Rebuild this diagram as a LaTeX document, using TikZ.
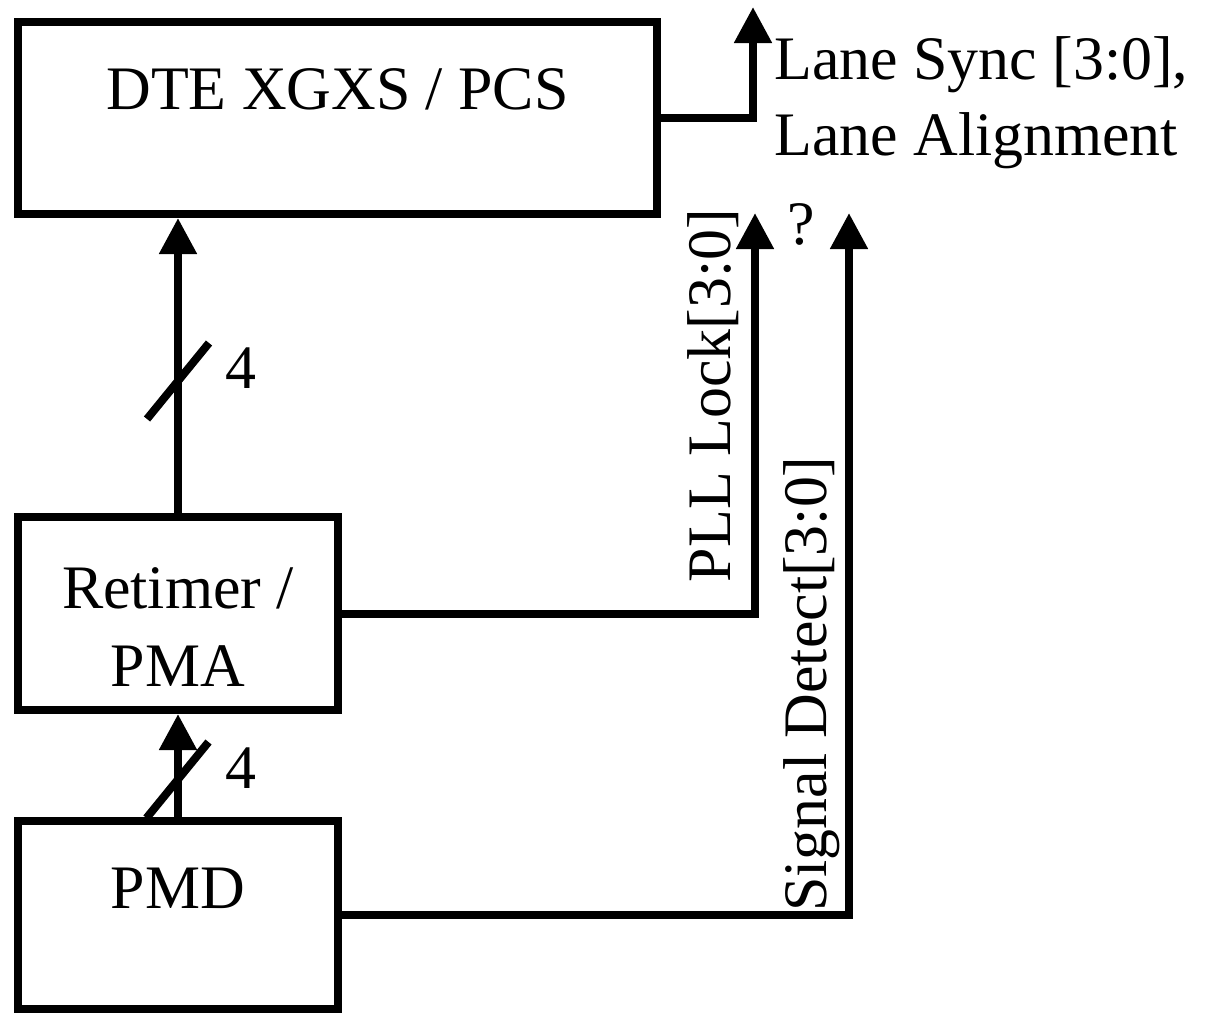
\documentclass[tikz,border=0pt]{standalone}
\usepackage{fontspec}
\setmainfont{Liberation Serif}
\usetikzlibrary{arrows.meta}

\tikzset{
  blk/.style={draw, line width=2mm, inner sep=0pt, minimum width=80mm},
  sig/.style={line width=2mm, -{Triangle[width=9mm,length=9mm]}},
  busmark/.style={line width=2mm},
}

\begin{document}
\begin{tikzpicture}[x=0.25mm, y=-0.25mm, font=\fontsize{44}{54}\selectfont]
\useasboundingbox (0,0) rectangle (1212,1013);

\node[blk, minimum width=159.75mm, text height=21.75mm, text depth=26.25mm] (dte) at (337.5,118) {DTE XGXS / PCS};
\node[blk, minimum height=48.25mm, align=center, font=\fontsize{44}{55.5}\selectfont] (ret) at (178,613.5) {\rule{0pt}{17mm}Retimer /\\PMA};
\node[blk, text height=21.75mm, text depth=25.25mm] (pmd) at (178,915) {PMD};

% tips of the status lines
\coordinate (lanetip) at (753,7);
\coordinate (plltip) at (755,213);
\coordinate (sigtip) at (849,213);

\draw[sig] (ret.north) -- (ret.north |- dte.south);
\draw[sig] (pmd.north) -- (ret.south);
\draw[sig] (dte.east) -| (lanetip);
\draw[sig] (ret.east) -| (plltip);
\draw[sig] (pmd.east) -| (sigtip);

% bus width marks
\coordinate (bus1) at (178,381);
\coordinate (bus2) at (177.5,780);
\draw[busmark] (bus1) ++(-31,38) -- ++(62,-76);
\draw[busmark] (bus2) ++(-31,38) -- ++(62,-76);
\node (w1) at (241,368) {4};
\node (w2) at (241,768) {4};

\node[anchor=base west, align=left, inner sep=0pt] (lanetxt) at (774,155) {Lane Sync [3:0],\\Lane Alignment};
\node[rotate=90, anchor=base east, inner sep=0pt] (plltxt) at (730,209) {PLL Lock[3:0]};
\node[rotate=90, anchor=base west, inner sep=0pt] (sigtxt) at (826,912) {Signal Detect[3:0]};
\node[inner sep=0pt] (qm) at (801,224) {?};

\end{tikzpicture}
\end{document}
